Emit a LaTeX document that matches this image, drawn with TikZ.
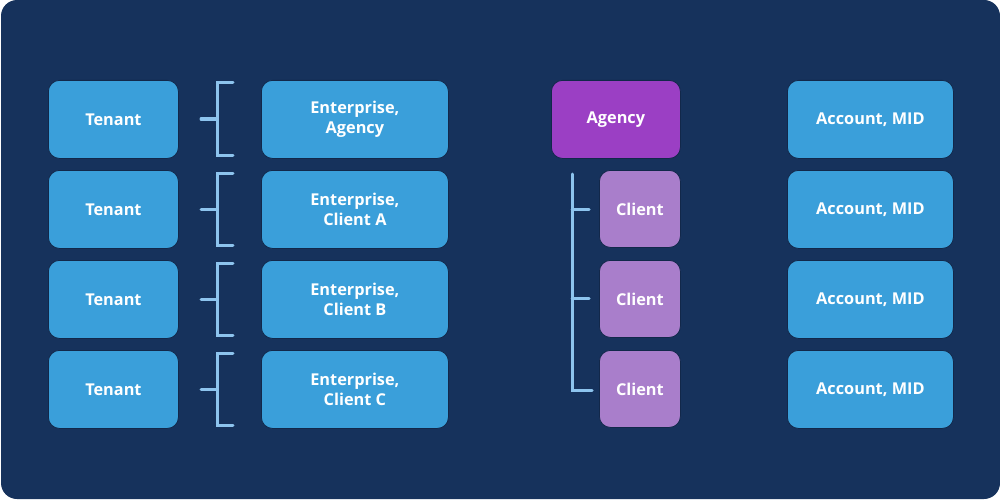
\documentclass[tikz,border=0pt]{standalone}
\usepackage{fontspec}
\setmainfont{Open Sans}
\definecolor{navy}{HTML}{16325C}
\definecolor{boxblue}{HTML}{3A9FDA}
\definecolor{agency}{HTML}{9B3FC4}
\definecolor{client}{HTML}{A97ECB}
\definecolor{bracket}{HTML}{8DC4EE}
\begin{document}
\begin{tikzpicture}[x=1pt,y=-1pt,
  card/.style={draw=navy!80!black,line width=0.8pt,rounded corners=11pt,text=white,font=\fontsize{16.3}{20.5}\selectfont\bfseries,align=center,inner sep=0pt,anchor=north west},
  brk/.style={draw=bracket,line width=3pt,line cap=round}]
\useasboundingbox (0,0) rectangle (1000,500);
\fill[white] (0,0) rectangle (1000,500);
\fill[navy,rounded corners=16pt] (1,0) rectangle (1000,499);
% rows
\foreach \i/\y/\lab in {1/80/{Enterprise,\\Agency},2/170/{Enterprise,\\Client A},3/260/{Enterprise,\\Client B},4/350/{Enterprise,\\Client C}}{
  \node[card,fill=boxblue,minimum width=130pt,minimum height=78pt] (t\i) at (48,\y) {Tenant};
  \node[card,fill=boxblue,minimum width=187pt,minimum height=78pt] (e\i) at (261,\y) {\lab};
  \node[card,fill=boxblue,minimum width=166pt,minimum height=78pt] (m\i) at (787,\y) {Account, MID};
  \coordinate (bt\i) at (233,\y+3);
  \coordinate (bb\i) at (233,\y+75);
  \coordinate (bs\i) at (201,\y+39);
  \draw[brk] (bt\i) -- (217,\y+3) -- (217,\y+75) -- (bb\i);
  \draw[brk] (bs\i) -- (217,\y+39);
}
\node[card,fill=agency,minimum width=129pt,minimum height=78pt] (ag) at (551,80) {Agency};
\node[card,fill=client,minimum width=81pt,minimum height=77pt] (c1) at (599,170) {Client};
\node[card,fill=client,minimum width=81pt,minimum height=77pt] (c2) at (599,260) {Client};
\node[card,fill=client,minimum width=81pt,minimum height=77pt] (c3) at (599,350) {Client};
\coordinate (tt) at (572,174);
\draw[brk,line join=miter] (tt) -- (572,390) -- (592,390);
\draw[brk] (572,209) -- (589,209);
\draw[brk] (572,298) -- (589,298);
\end{tikzpicture}
\end{document}
